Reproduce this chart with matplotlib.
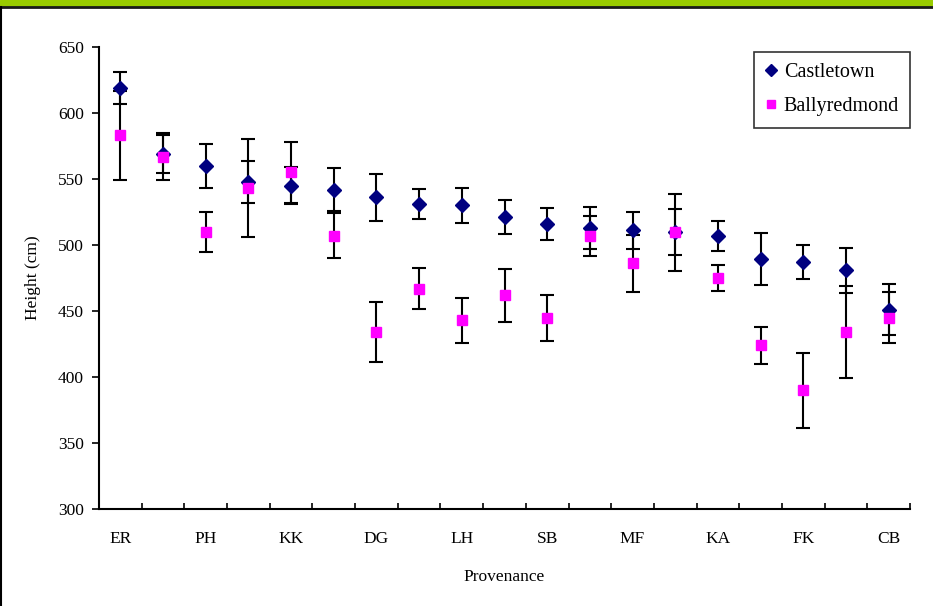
import matplotlib.pyplot as plt
import numpy as np

provenances = ["ER", "", "PH", "", "KK", "", "DG", "", "LH", "", "SB", "",
               "MF", "", "KA", "", "FK", "", "CB"]
castletown = [619, 569, 560, 548, 545, 542, 536, 531, 530, 521, 516, 513,
              511, 509.5, 507, 489.5, 487, 481, 451]
castletown_err = [12, 14.5, 16.5, 16, 14, 16.5, 18, 11.5, 13, 13, 12, 16,
                  14, 29.5, 11.5, 19.5, 13, 17, 19.5]
ballyredmond = [583, 567, 510, 543, 555, 507, 434, 467, 443, 462, 445, 507,
                486, 510, 475, 424, 390, 434, 445]
ballyredmond_err = [34, 18, 15, 37, 23, 17, 23, 15.5, 17, 20, 17.5, 15,
                    21.5, 17.5, 9.5, 14, 28.5, 35, 19.5]

plt.rcParams['font.family'] = ['Liberation Serif', 'DejaVu Serif']

fig = plt.figure(figsize=(9.33, 6.06), dpi=100)
fig.patches.append(plt.Rectangle((0, 1 - 6 / 606), 1, 6 / 606, transform=fig.transFigure,
                                 color='#99CC00', zorder=0))
fig.lines.append(plt.Line2D([0, 1], [1 - 7 / 606, 1 - 7 / 606], transform=fig.transFigure,
                            color='#1a1a1a', lw=2))
fig.lines.append(plt.Line2D([0.0008, 0.0008], [0, 1 - 7 / 606], transform=fig.transFigure,
                            color='black', lw=1.5))

ax = fig.add_axes([99 / 933, 1 - 509 / 606, (910 - 99) / 933, (509 - 47) / 606])

x = np.arange(len(provenances))
ax.errorbar(x, castletown, yerr=castletown_err, fmt='D', color='#000080', ms=7.5,
            ecolor='black', elinewidth=1.5, capsize=5, capthick=1.5, label='Castletown')
ax.errorbar(x, ballyredmond, yerr=ballyredmond_err, fmt='s', color='#FF00FF', ms=7.5,
            ecolor='black', elinewidth=1.5, capsize=5, capthick=1.5, label='Ballyredmond')

ax.set_xlim(-0.5, len(provenances) - 0.5)
ax.set_ylim(300, 650)
ax.set_yticks(np.arange(300, 651, 50))
ax.set_xticks(x[::2])
ax.set_xticklabels([p for p in provenances[::2]])
ax.set_xticks(np.arange(-0.5, len(provenances)), minor=True)
ax.tick_params(axis='x', which='major', length=0, pad=16, labelsize=12.5)
ax.tick_params(axis='x', which='minor', direction='in', length=4, width=1.2)
ax.tick_params(axis='y', direction='out', length=5, width=1.2, labelsize=12.5, pad=6)

for s in ['top', 'right']:
    ax.spines[s].set_visible(False)
ax.spines['left'].set_linewidth(1.5)
ax.spines['bottom'].set_linewidth(1.5)

ax.set_xlabel('Provenance', fontsize=12.5, labelpad=16)
ax.set_ylabel('Height (cm)', fontsize=12.5, labelpad=12)

handles, labels = ax.get_legend_handles_labels()
handles = [h[0] for h in handles]
leg = ax.legend(handles, labels, loc='upper right', bbox_to_anchor=(1.0, 0.989), fontsize=14.5,
                borderaxespad=0, frameon=True, fancybox=False, edgecolor='black',
                handlelength=0.5, handletextpad=0.4, borderpad=0.55, labelspacing=0.75,
                markerscale=0.8)
leg.get_frame().set_linewidth(1.2)

fig.savefig('out.png', dpi=100)
